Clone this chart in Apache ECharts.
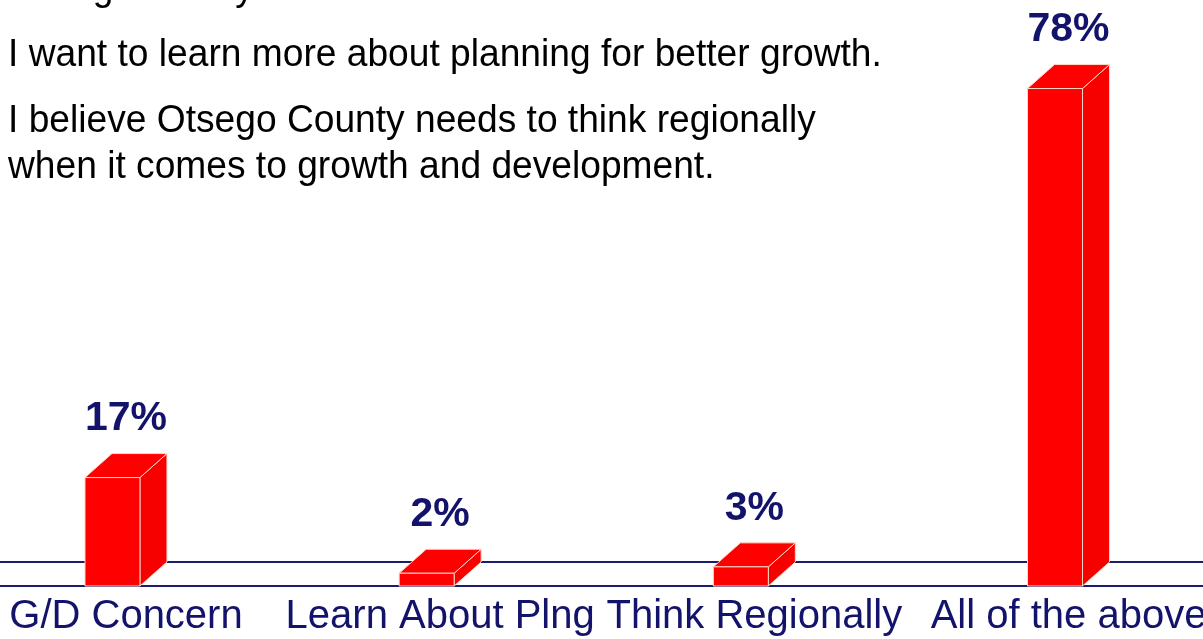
<!DOCTYPE html>
<html>
<head>
<meta charset="utf-8">
<script src="https://cdn.jsdelivr.net/npm/echarts@6/dist/echarts.min.js"></script>
<style>
html,body{margin:0;padding:0;background:#fff;}
#c{width:1203px;height:639px;}
</style>
</head>
<body>
<div id="c"></div>
<script>
const categories = ['G/D Concern', 'Learn About Plng', 'Think Regionally', 'All of the above'];
const values = [17, 2, 3, 78];
const headerLines = [
  'That growth by itself is a concern.',
  'I want to learn more about planning for better growth.',
  'I believe Otsego County needs to think regionally',
  'when it comes to growth and development.'
];
const headerTops = [-29, 37, 103, 149];

const NAVY = '#13136b';
const LINE = '#1c1c6e';
const DX = 27, DY = -24;
const chart = echarts.init(document.getElementById('c'), null, {renderer: 'canvas'});

const graphics = headerLines.map((t, i) => ({
  type: 'text',
  x: 8,
  y: headerTops[i],
  scaleX: 0.978,
  style: {
    text: t,
    fill: '#000',
    font: '38px "Liberation Sans", Arial, sans-serif'
  },
  z: 10
}));

chart.setOption({
  animation: false,
  backgroundColor: '#fff',
  grid: {left: 0, right: 0, top: 12, bottom: 53, containLabel: false},
  xAxis: {
    type: 'value',
    min: -0.358,
    max: 3.471,
    axisTick: {show: false},
    axisLabel: {show: false},
    splitLine: {show: false},
    axisLine: {show: true, onZero: false, lineStyle: {color: LINE, width: 2}},
    z: 0
  },
  yAxis: {type: 'value', min: 0, max: 90, show: false},
  graphic: graphics,
  series: [
    {
      type: 'custom',
      clip: false,
      z: 2,
      data: values.map((v, i) => [i, v]),
      renderItem: function (params, api) {
        const base = api.coord([api.value(0), 0]);
        const top = api.coord([api.value(0), api.value(1)]);
        const band = api.size([1, 0])[0];
        const w = band * 0.175;
        const x = base[0] - w / 2;
        const yb = base[1], yt = top[1];
        const red = '#ff0000';
        const edge = '#ffd6c4';
        return {
          type: 'group',
          children: [
            {
              type: 'polygon',
              shape: {points: [[x + w, yt], [x + w + DX, yt + DY], [x + w + DX, yb + DY], [x + w, yb]]},
              style: {fill: '#f60000', stroke: edge, lineWidth: 1}
            },
            {
              type: 'polygon',
              shape: {points: [[x, yt], [x + DX, yt + DY], [x + w + DX, yt + DY], [x + w, yt]]},
              style: {fill: red, stroke: edge, lineWidth: 1}
            },
            {
              type: 'rect',
              shape: {x: x, y: yt, width: w, height: yb - yt},
              style: {fill: red, stroke: edge, lineWidth: 1}
            },
            {
              type: 'text',
              x: base[0] + DX / 2,
              y: yt + DY - 14,
              style: {
                text: api.value(1) + '%',
                fill: NAVY,
                font: 'bold 41px "Liberation Sans", Arial, sans-serif',
                align: 'center',
                verticalAlign: 'bottom'
              }
            },
            {
              type: 'text',
              x: base[0] + DX / 2,
              y: yb + 11,
              style: {
                text: categories[params.dataIndex],
                fill: NAVY,
                font: '40px "Liberation Sans", Arial, sans-serif',
                align: 'center',
                verticalAlign: 'top'
              }
            }
          ]
        };
      }
    },
    {
      type: 'custom',
      clip: false,
      z: 1,
      silent: true,
      data: [[0, 0]],
      renderItem: function (params, api) {
        const p = api.coord([0, 0]);
        const cs = params.coordSys;
        return {
          type: 'line',
          shape: {x1: cs.x, y1: p[1] + DY, x2: cs.x + cs.width, y2: p[1] + DY},
          style: {stroke: LINE, lineWidth: 2}
        };
      }
    }
  ]
});
</script>
</body>
</html>
